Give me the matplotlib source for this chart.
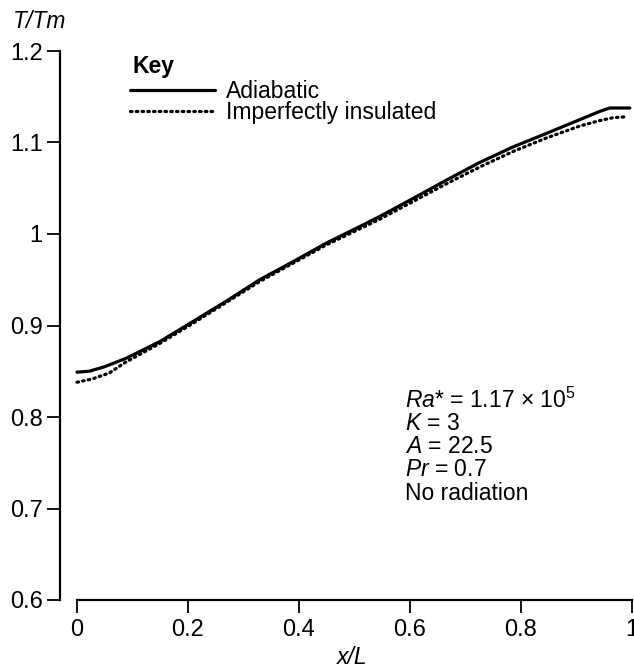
import matplotlib
matplotlib.use("Agg")
import matplotlib.pyplot as plt

plt.rcParams['font.family'] = ['Liberation Sans', 'DejaVu Sans']
plt.rcParams['mathtext.fontset'] = 'custom'
plt.rcParams['mathtext.rm'] = 'Liberation Sans'
plt.rcParams['mathtext.it'] = 'Liberation Sans:italic'
plt.rcParams['mathtext.bf'] = 'Liberation Sans:bold'

# Data
x_adiabatic = [0, 0.022, 0.05, 0.088, 0.148, 0.208, 0.27, 0.329, 0.39, 0.449, 0.509,
               0.545, 0.606, 0.666, 0.725, 0.785, 0.846, 0.906, 0.942, 0.96, 0.996]
y_adiabatic = [0.849, 0.850, 0.855, 0.864, 0.882, 0.904, 0.927, 0.950, 0.970, 0.990, 1.008,
               1.019, 1.039, 1.059, 1.078, 1.095, 1.110, 1.125, 1.134, 1.1377, 1.1377]
x_insulated = [0, 0.027, 0.058, 0.088, 0.148, 0.208, 0.329, 0.449, 0.545, 0.666,
               0.725, 0.785, 0.846, 0.906, 0.942, 0.965, 0.987]
y_insulated = [0.838, 0.8415, 0.848, 0.860, 0.880, 0.902, 0.948, 0.988, 1.016, 1.055,
               1.073, 1.090, 1.105, 1.118, 1.124, 1.127, 1.128]
x_ticks = [0, 0.2, 0.4, 0.6, 0.8, 1.0]
x_ticklabels = ['0', '0.2', '0.4', '0.6', '0.8', '1']
y_ticks = [0.6, 0.7, 0.8, 0.9, 1.0, 1.1, 1.2]
y_ticklabels = ['0.6', '0.7', '0.8', '0.9', '1', '1.1', '1.2']
series_labels = ['Adiabatic', 'Imperfectly insulated']
notes = [r'$\mathit{Ra}$* = 1.17 $\times$ 10$^{5}$', r'$\mathit{K}$ = 3',
         r'$\mathit{A}$ = 22.5', r'$\mathit{Pr}$ = 0.7', 'No radiation']

W, H = 634, 668
fig = plt.figure(figsize=(W / 100, H / 100), dpi=100)
ax_left, ax_right, ax_top, ax_bot = 60, 632, 51, 600
ax = fig.add_axes([ax_left / W, 1 - ax_bot / H, (ax_right - ax_left) / W, (ax_bot - ax_top) / H])

fs_tick = 17
fs = 16.5
l1, = ax.plot(x_adiabatic, y_adiabatic, color='black', lw=2.3, solid_capstyle='round')
l2, = ax.plot(x_insulated, y_insulated, color='black', lw=2.3, linestyle=(0, (0.5, 1.3)),
              dash_capstyle='round')

ax.set_xlim(-0.0306, 1.0)
ax.set_ylim(0.6, 1.2)
ax.spines['top'].set_visible(False)
ax.spines['right'].set_visible(False)
ax.spines['bottom'].set_bounds(0, 1)
for s in ('left', 'bottom'):
    ax.spines[s].set_linewidth(1.6)
ax.set_xticks(x_ticks)
ax.set_xticklabels(x_ticklabels)
ax.set_yticks(y_ticks)
ax.set_yticklabels(y_ticklabels)
ax.tick_params(direction='out', length=9.5, width=1.3, labelsize=fs_tick)
ax.tick_params(axis='y', pad=3)
ax.tick_params(axis='x', pad=4)

fig.text(13 / W, 1 - 22 / H, 'T/Tm', fontsize=fs, style='italic', ha='left', va='center')
fig.text(352 / W, 1 - 658 / H, 'x/L', fontsize=fs, style='italic', ha='center', va='center')

fig.text(132 / W, 1 - 66 / H, 'Key', fontsize=fs, fontweight='bold', ha='left', va='center')
leg = ax.legend([l1, l2], series_labels, loc='center left',
                bbox_to_anchor=(130 / W, 1 - 102 / H), bbox_transform=fig.transFigure,
                frameon=False, fontsize=fs, borderpad=0, labelspacing=-0.08,
                handlelength=3.7, handletextpad=0.5, borderaxespad=0)

for i, t in enumerate(notes):
    fig.text(405 / W, 1 - (400 + 23.3 * i) / H, t, fontsize=fs, ha='left', va='center')

fig.savefig('out.png', dpi=100)
